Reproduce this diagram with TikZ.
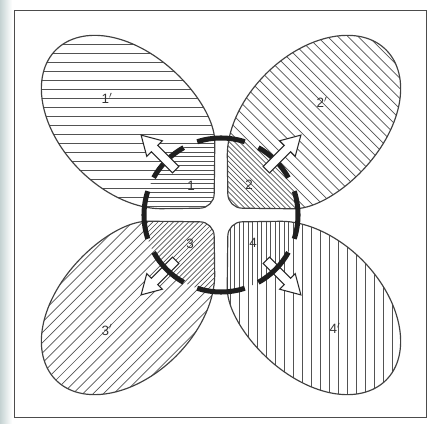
\documentclass[tikz,border=0pt]{standalone}
\usepackage{fontspec}
\setmainfont{Liberation Sans}
\usetikzlibrary{calc}

\begin{document}
\begin{tikzpicture}[x=0.03cm,y=0.03cm,
  lobe/.style={draw=black!75,line width=1pt},
  hatch/.style={draw=black!68,line width=0.6pt},
  ring/.style={draw=black!88,line width=4.3pt},
  blockarrow/.style={draw=black!85,fill=white,line width=0.9pt,line join=miter},
  lbl/.style={text=black!80,font=\fontsize{11.5}{12}\selectfont,inner sep=0pt}]
  \useasboundingbox (0,0) rectangle (427,423);
  \shade[left color=teal!30!gray!35,right color=white] (0,0) rectangle (12,423);
  \draw[black!70,line width=0.8pt] (14,6) rectangle (426,413);
  \coordinate (O) at (221,208);

  % lobes: direction / hatch angle / spacing
  \foreach \a/\h/\s in {135/0/9, 45/-45/7.2, 225/45/7.2, 315/90/9}{
    \begin{scope}
      \clip[shift={(O)},rotate=\a,shift={(131.5,0)}]
        (-84.9,37.7) [rounded corners=12pt] -- (-121.6,0) -- (-84.9,-37.7) [sharp corners]
        arc[start angle=213.69,end angle=506.31,x radius=102,y radius=68] -- cycle;
      \begin{scope}[shift={(O)},rotate=\h]
        \foreach \i in {-36,...,36}
          \draw[hatch] (-300,\i*\s) -- (300,\i*\s);
      \end{scope}
      % denser inside the ring
      \clip (O) circle (77);
      \begin{scope}[shift={(O)},rotate=\h]
        \foreach \i in {-14,...,13}
          \draw[hatch] (-300,\i*\s+0.5*\s) -- (300,\i*\s+0.5*\s);
      \end{scope}
    \end{scope}
    \draw[lobe,shift={(O)},rotate=\a,shift={(131.5,0)}]
      (-84.9,37.7) [rounded corners=12pt] -- (-121.6,0) -- (-84.9,-37.7) [sharp corners]
      arc[start angle=213.69,end angle=506.31,x radius=102,y radius=68] -- cycle;
  }

  % lower arrows sit under the ring
  \foreach \a in {225,315}
    \draw[blockarrow,shift={(O)},rotate=\a]
      (64,-4.5) -- (94,-4.5) -- (94,-11) -- (113,0) -- (94,11) -- (94,4.5) -- (64,4.5) -- cycle;

  % dashed ring
  \foreach \b in {0,90,180,270}{
    \draw[ring] (O) ++(\b-18:77) arc[start angle=\b-18,end angle=\b+18,radius=77];
    \draw[ring] (O) ++(\b+29:77) arc[start angle=\b+29,end angle=\b+61,radius=77];
  }

  % upper arrows on top
  \foreach \a in {45,135}
    \draw[blockarrow,shift={(O)},rotate=\a]
      (64,-4.5) -- (94,-4.5) -- (94,-11) -- (113,0) -- (94,11) -- (94,4.5) -- (64,4.5) -- cycle;

  \node[lbl] (l1p) at ([shift={(-114,117)}]O) {1$'$};
  \node[lbl] (l2p) at ([shift={(101,113)}]O) {2$'$};
  \node[lbl] (l3p) at ([shift={(-114,-115)}]O) {3$'$};
  \node[lbl] (l4p) at ([shift={(114,-113)}]O) {4$'$};
  \node[lbl] (l1) at ([shift={(-30,29)}]O) {1};
  \node[lbl] (l2) at ([shift={(28,30)}]O) {2};
  \node[lbl] (l3) at ([shift={(-31,-29)}]O) {3};
  \node[lbl] (l4) at ([shift={(32,-28)}]O) {4};
\end{tikzpicture}
\end{document}
